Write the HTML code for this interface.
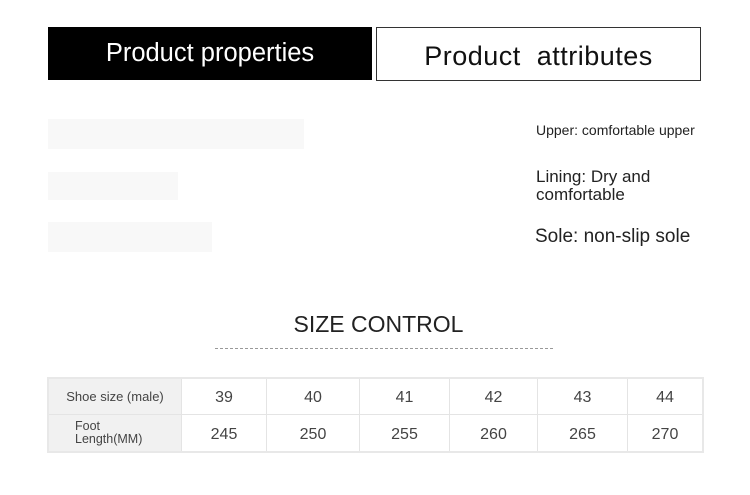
<!DOCTYPE html>
<html><head><style>
body{margin:0;width:750px;height:495px;background:#fff;position:relative;font-family:"Liberation Sans",sans-serif;overflow:hidden}
.a{position:absolute}
.g{background:#f8f8f8}
td{border:1px solid #e4e4e4;text-align:center;font-size:16px;color:#444;padding:4px 0 0 0}
</style></head><body>
<div class="a" style="left:48px;top:27px;width:324px;height:53px;background:#000;color:#fff;font-size:25.5px;line-height:53px;text-align:center">Product properties</div>
<div class="a" style="left:376px;top:27px;width:323px;height:52px;border:1px solid #333;color:#111;font-size:27px;line-height:56px;text-align:center;letter-spacing:0.5px">Product&nbsp; attributes</div>
<div class="a g" style="left:48px;top:119px;width:256px;height:30px"></div>
<div class="a g" style="left:48px;top:172px;width:130px;height:28px"></div>
<div class="a g" style="left:48px;top:222px;width:164px;height:30px"></div>
<div class="a" style="left:536px;top:122px;font-size:14px;color:#222">Upper: comfortable upper</div>
<div class="a" style="left:536px;top:168px;font-size:17px;color:#222;line-height:18px">Lining: Dry and<br>comfortable</div>
<div class="a" style="left:535px;top:226px;font-size:19px;color:#222">Sole: non-slip sole</div>
<div class="a" style="left:0;width:757px;top:311px;text-align:center;font-size:23px;color:#222">SIZE CONTROL</div>
<div class="a" style="left:215px;top:348px;width:338px;border-top:1px dashed #999"></div>
<table class="a" style="left:47px;top:377px;width:657px;height:76px;border-collapse:collapse;border:2px solid #e8e8e8">
<tr style="height:36px"><td style="width:132px;background:#f1f1f1;font-size:13px;padding:0">Shoe size (male)</td><td style="width:84px">39</td><td style="width:92px">40</td><td style="width:89px">41</td><td style="width:87px">42</td><td style="width:89px">43</td><td>44</td></tr>
<tr><td style="background:#f1f1f1;font-size:12.5px;text-align:left;padding:0 0 0 26px;line-height:13px">Foot<br>Length(MM)</td><td>245</td><td>250</td><td>255</td><td>260</td><td>265</td><td>270</td></tr>
</table>
</body></html>
